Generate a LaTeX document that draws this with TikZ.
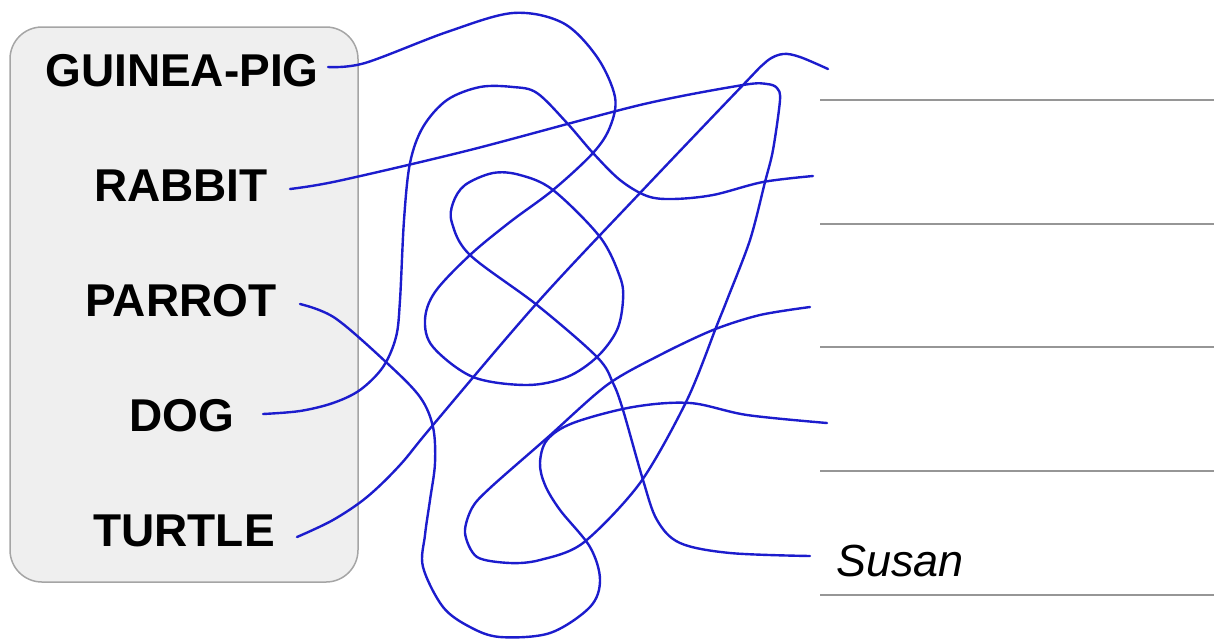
\documentclass[tikz,border=0pt]{standalone}
\usepackage{fontspec}
\setmainfont{Liberation Sans}
\definecolor{wireblue}{RGB}{28,28,205}
\definecolor{slotgray}{RGB}{150,150,150}
\definecolor{boxfill}{RGB}{239,239,239}
\definecolor{boxedge}{RGB}{165,165,165}
\begin{document}
\begin{tikzpicture}[x=1pt,y=-1pt,
  lbl/.style={font=\fontsize{46}{50}\selectfont\bfseries, inner sep=0pt},
  wire/.style={draw=wireblue, line width=2.4pt, line cap=round, line join=round},
  slot/.style={draw=slotgray, line width=2pt}]
\useasboundingbox (0,0) rectangle (1214,641);
\draw[fill=boxfill, draw=boxedge, line width=1.5pt, rounded corners=32pt] (10,27) rectangle (358,582);
% labels
\node[lbl] (gp) at (182,70.5) {GUINEA-PIG};
\node[lbl] (rab) at (181,185.5) {RABBIT};
\node[lbl] (par) at (181,301) {PARROT};
\node[lbl] (dog) at (182,416) {DOG};
\node[lbl] (tur) at (184,531) {TURTLE};
\node[font=\fontsize{45}{50}\selectfont\itshape, inner sep=0pt, anchor=base west] (susan) at (836,576) {Susan};
% answer lines
\foreach \y/\n in {100/a,224/b,347/c,471/d,595/e}{
  \draw[slot] (820,\y) coordinate (l\n) -- (1214,\y);
}
% start and end points
\coordinate (gpS) at (328,67);
\coordinate (rabS) at (290,189);
\coordinate (parS) at (300,304);
\coordinate (dogS) at (263,414);
\coordinate (turS) at (297,537);
\coordinate (e1) at (828,69);
\coordinate (e2) at (813,176);
\coordinate (e3) at (810,307);
\coordinate (e4) at (827,423);
\coordinate (e5) at (810,556);
% TURTLE
\draw[wire] plot[smooth, tension=0.55] coordinates {(turS) (333,520) (367,497) (400,465) (433,425) (537,303) (640,193) (743,85) (767,61) (783,54) (800,57) (e1)};
% DOG
\draw[wire] plot[smooth, tension=0.55] coordinates {(dogS) (300,411) (333,403) (360,390) (383,367) (396,337) (400,300) (404,220) (410,163) (423,127) (447,100) (480,87) (513,87) (537,93) (567,123) (593,153) (620,180) (647,196) (673,199) (713,195) (763,182) (e2)};
% RABBIT
\draw[wire] plot[smooth, tension=0.5] coordinates {(rabS) (338,181) (470,150) (640,105) (743,85) (767,84) (777,88) (780,100) (773,150) (765,182) (750,240) (727,300) (717,325) (687,400) (640,483) (583,543) (540,560) (510,563) (477,557) (465,533) (472,508) (490,488) (547,438) (607,385) (660,355) (713,330) (760,315) (e3)};
% PARROT
\draw[wire] plot[smooth, tension=0.55] coordinates {(parS) (335,318) (387,363) (420,397) (433,427) (435,463) (430,500) (425,535) (423,567) (443,607) (470,627) (500,637) (550,633) (590,607) (600,580) (590,547) (560,510) (545,485) (540,463) (547,440) (573,423) (633,407) (690,403) (747,415) (e4)};
% GUINEA-PIG
\draw[wire] plot[smooth, tension=0.55] coordinates {(gpS) (365,63) (447,32) (513,13) (563,23) (597,57) (615,97) (610,127) (593,153) (553,190) (510,222) (470,255) (435,292) (425,320) (433,347) (473,377) (527,385) (567,377) (597,357) (617,330) (623,300) (620,277) (600,237) (553,190) (520,175) (493,173) (465,185) (453,203) (452,223) (470,255) (537,305) (597,357) (613,383) (623,410) (643,480) (657,520) (680,543) (730,553) (e5)};
\end{tikzpicture}
\end{document}
